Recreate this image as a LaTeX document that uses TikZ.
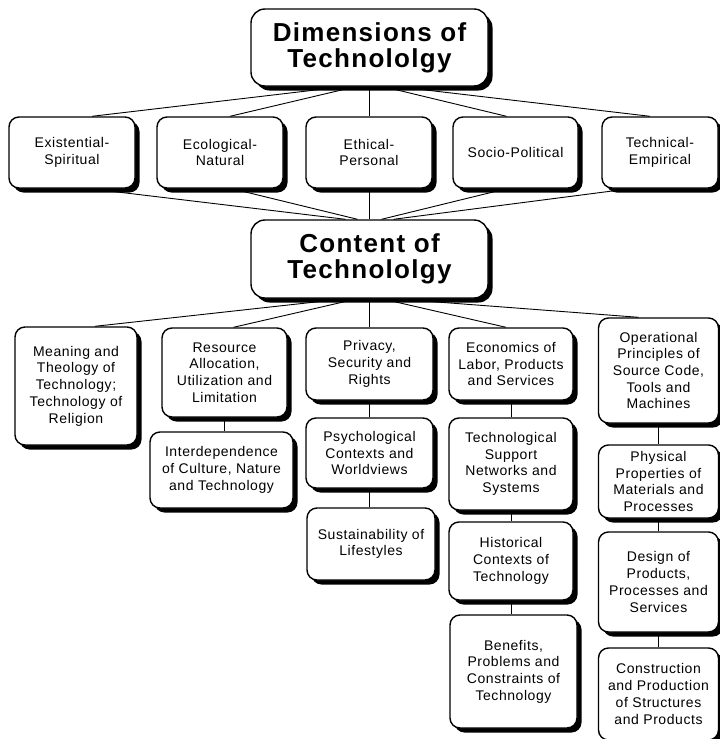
\documentclass[tikz,border=0pt]{standalone}
\usepackage{fontspec}
\setmainfont{Liberation Sans}
\newfontfamily\boxfont[LetterSpace=4]{Liberation Sans}
\newfontfamily\headfont[LetterSpace=5]{Liberation Sans}
\usetikzlibrary{shadows,backgrounds}
\begin{document}
\begin{tikzpicture}[x=1pt,y=-1pt,
  box/.style={draw, line width=1.4pt, rounded corners=10pt, fill=white,
    inner sep=0pt, align=center,
    drop shadow={shadow xshift=4.5pt, shadow yshift=-4.5pt, fill=black, opacity=1},
    font=\boxfont\fontsize{14}{16.7}\selectfont},
  head/.style={box, rounded corners=14pt,
    font=\headfont\bfseries\fontsize{26}{26}\selectfont},
  sz/.style 2 args={minimum width=#1pt, minimum height=#2pt},
  link/.style={line width=0.9pt}]
\useasboundingbox (0,0) rectangle (720,739);

% top level
\node[head, sz={237}{77}] (top) at (369.5,47.5) {Dimensions of\\Technololgy};

% dimensions
\node[box, sz={126}{71}] (exi) at (72,152.5)  {Existential-\\Spiritual};
\node[box, sz={126}{71}] (eco) at (220,152.5) {Ecological-\\Natural};
\node[box, sz={126}{71}] (eth) at (369,152.5) {Ethical-\\Personal};
\node[box, sz={125}{71}] (soc) at (515.5,152.5) {Socio-Political};
\node[box, sz={116}{71}] (tec) at (660,152.5) {Technical-\\Empirical};

% content
\node[head, sz={237}{78}] (cnt) at (369.5,259) {Content of\\Technololgy};

% column 1
\node[box, sz={122}{118}] (mea) at (76,386) {Meaning and\\Theology of\\Technology;\\Technology of\\Religion};

% column 2
\node[box, sz={125}{89}] (res) at (224.5,372.5) {Resource\\Allocation,\\Utilization and\\Limitation};
\node[box, sz={143}{76}] (int) at (221.5,470) {Interdependence\\of Culture, Nature\\and Technology};

% column 3
\node[box, sz={127}{72}] (pri) at (369.5,364) {Privacy,\\Security and\\Rights};
\node[box, sz={127}{70}] (psy) at (369.5,453) {Psychological\\Contexts and\\Worldviews};
\node[box, sz={128}{72}] (sus) at (371,544) {Sustainability of\\Lifestyles};

% column 4
\node[box, sz={124}{72}] (ecn) at (511,364) {Economics of\\Labor, Products\\and Services};
\node[box, sz={124}{92}] (tsn) at (511,464) {Technological\\Support\\Networks and\\Systems};
\node[box, sz={124}{78}] (his) at (511,561) {Historical\\Contexts of\\Technology};
\node[box, sz={127}{113}] (ben) at (513.5,671.5) {Benefits,\\Problems and\\Constraints of\\Technology};

% column 5
\node[box, sz={120}{105}] (ope) at (658.5,370.5) {Operational\\Principles of\\Source Code,\\Tools and\\Machines};
\node[box, sz={120}{73}] (phy) at (658.5,481.5) {Physical\\Properties of\\Materials and\\Processes};
\node[box, sz={120}{100}] (des) at (658.5,582) {Design of\\Products,\\Processes and\\Services};
\node[box, sz={120}{92}] (cpr) at (658.5,694) {Construction\\and Production\\of Structures\\and Products};

\begin{scope}[on background layer]
  % dimensions fan
  \draw[link] ([xshift=-26pt]top.south) -- ([xshift=20pt]exi.north);
  \draw[link] ([xshift=-14pt]top.south) -- ([xshift=10pt]eco.north);
  \draw[link] (top.south) -- (top.south |- eth.north);
  \draw[link] ([xshift=14pt]top.south) -- ([xshift=-9pt]soc.north);
  \draw[link] ([xshift=28pt]top.south) -- ([xshift=-10pt]tec.north);
  % into content
  \draw[link] ([xshift=18pt]exi.south) -- ([xshift=-24pt]cnt.north);
  \draw[link] ([xshift=12pt]eco.south) -- ([xshift=-12pt]cnt.north);
  \draw[link] (eth.south) -- (eth.south |- cnt.north);
  \draw[link] ([xshift=-9pt]soc.south) -- ([xshift=12pt]cnt.north);
  \draw[link] ([xshift=-30pt]tec.south) -- ([xshift=24pt]cnt.north);
  % content fan
  \draw[link] ([xshift=-24pt]cnt.south) -- ([xshift=19pt]mea.north);
  \draw[link] ([xshift=-12pt]cnt.south) -- ([xshift=9pt]res.north);
  \draw[link] (cnt.south) -- (cnt.south |- pri.north);
  \draw[link] ([xshift=12pt]cnt.south) -- ([xshift=-5pt]ecn.north);
  \draw[link] ([xshift=24pt]cnt.south) -- ([xshift=-20pt]ope.north);
  % column chains
  \draw[link] (res.south) -- (res.south |- int.north);
  \draw[link] (pri.south) -- (psy.north);
  \draw[link] (psy.south) -- (psy.south |- sus.north);
  \draw[link] (ecn.south) -- (tsn.north);
  \draw[link] (tsn.south) -- (his.north);
  \draw[link] (his.south) -- (his.south |- ben.north);
  \draw[link] (ope.south) -- (phy.north);
  \draw[link] (phy.south) -- (des.north);
  \draw[link] (des.south) -- (cpr.north);
\end{scope}
\end{tikzpicture}
\end{document}
